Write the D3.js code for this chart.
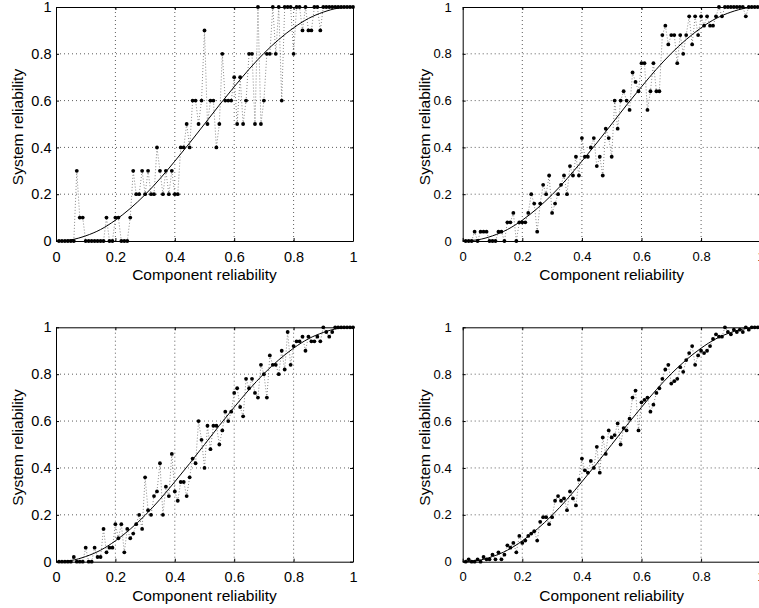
<!DOCTYPE html>
<html>
<head>
<meta charset="utf-8">
<script src="https://cdn.jsdelivr.net/npm/d3@7"></script>
<style>
body { margin: 0; background: #fff; }
text { font-family: "Liberation Sans", Arial, Helvetica, sans-serif; fill: #000; }
</style>
</head>
<body>
<div id="chart"></div>
<script>
// component reliability values where the system was simulated
const componentReliability = [
  0.01,0.02,0.03,0.04,0.05,0.06,0.07,0.08,0.09,0.10,
  0.11,0.12,0.13,0.14,0.15,0.16,0.17,0.18,0.19,0.20,
  0.21,0.22,0.23,0.24,0.25,0.26,0.27,0.28,0.29,0.30,
  0.31,0.32,0.33,0.34,0.35,0.36,0.37,0.38,0.39,0.40,
  0.41,0.42,0.43,0.44,0.45,0.46,0.47,0.48,0.49,0.50,
  0.51,0.52,0.53,0.54,0.55,0.56,0.57,0.58,0.59,0.60,
  0.61,0.62,0.63,0.64,0.65,0.66,0.67,0.68,0.69,0.70,
  0.71,0.72,0.73,0.74,0.75,0.76,0.77,0.78,0.79,0.80,
  0.81,0.82,0.83,0.84,0.85,0.86,0.87,0.88,0.89,0.90,
  0.91,0.92,0.93,0.94,0.95,0.96,0.97,0.98,0.99,1.00
];

// estimated system reliability, one list per panel
const sysTop1 = [
  0,0,0,0,0,0,0.3,0.1,0.1,0,
  0,0,0,0,0,0,0.1,0,0,0.1,
  0.1,0,0,0,0.1,0.3,0.2,0.2,0.3,0.2,
  0.3,0.2,0.2,0.4,0.3,0.2,0.3,0.2,0.3,0.2,
  0.2,0.4,0.4,0.5,0.4,0.6,0.6,0.5,0.6,0.9,
  0.5,0.6,0.6,0.4,0.5,0.8,0.6,0.6,0.6,0.7,
  0.5,0.7,0.5,0.6,0.8,0.8,0.5,1,0.5,0.6,
  0.8,0.8,1,0.8,1,0.6,1,1,1,0.8,
  1,1,0.9,1,0.9,0.9,1,1,0.9,1,
  1,1,1,1,1,1,1,1,1,1
];
const sysTop2 = [
  0,0,0,0.04,0,0.04,0.04,0.04,0,0,
  0,0.04,0.04,0,0.08,0.08,0.12,0,0.08,0.08,
  0.08,0.12,0.2,0.16,0.04,0.16,0.24,0.2,0.28,0.12,
  0.16,0.2,0.24,0.28,0.2,0.32,0.28,0.36,0.28,0.44,
  0.36,0.36,0.4,0.44,0.32,0.36,0.28,0.48,0.44,0.36,
  0.6,0.48,0.6,0.64,0.6,0.56,0.72,0.68,0.64,0.76,
  0.76,0.56,0.64,0.76,0.64,0.64,0.88,0.92,0.84,0.88,
  0.88,0.76,0.88,0.8,0.88,0.96,0.84,0.96,0.88,0.96,
  0.92,0.96,0.92,0.92,0.96,1,0.96,1,1,1,
  1,1,1,1,0.96,1,1,1,1,1
];
const sysBottom1 = [
  0,0,0,0,0,0.02,0,0,0,0.06,
  0,0,0.06,0.02,0.02,0.14,0.04,0.06,0.06,0.16,
  0.1,0.16,0.04,0.14,0.1,0.12,0.16,0.2,0.14,0.36,
  0.22,0.2,0.28,0.3,0.42,0.2,0.32,0.28,0.46,0.3,
  0.26,0.34,0.34,0.28,0.36,0.44,0.42,0.6,0.52,0.4,
  0.58,0.48,0.58,0.58,0.5,0.56,0.64,0.6,0.64,0.72,
  0.74,0.66,0.62,0.78,0.74,0.78,0.72,0.7,0.84,0.8,
  0.7,0.88,0.84,0.84,0.8,0.9,0.82,0.98,0.84,0.92,
  0.94,0.94,0.96,0.9,0.96,0.94,0.94,0.96,0.94,1,
  0.98,0.96,0.98,1,1,1,1,1,1,1
];
const sysBottom2 = [
  0,0.01,0,0,0.01,0,0.02,0.01,0.01,0.03,
  0.01,0.04,0.01,0.03,0.07,0.06,0.08,0.04,0.11,0.08,
  0.09,0.11,0.12,0.13,0.09,0.17,0.19,0.19,0.16,0.19,
  0.26,0.28,0.26,0.27,0.22,0.30,0.27,0.24,0.35,0.44,
  0.39,0.38,0.43,0.40,0.49,0.38,0.53,0.46,0.56,0.53,
  0.54,0.59,0.50,0.57,0.56,0.61,0.70,0.73,0.56,0.68,
  0.69,0.70,0.64,0.67,0.72,0.74,0.78,0.82,0.84,0.76,
  0.77,0.78,0.83,0.81,0.86,0.89,0.92,0.84,0.88,0.90,
  0.89,0.90,0.92,0.95,0.97,0.96,0.96,1.0,0.98,0.97,
  0.99,0.98,0.99,0.98,1,0.99,1,1,1,1
];

// exact system reliability curve
const curveX = [0,0.05,0.1,0.15,0.2,0.25,0.3,0.35,0.4,0.45,0.5,0.55,0.6,0.65,0.7,0.75,0.8,0.85,0.9,0.95,1];
const curveY = [0,0.005,0.022,0.049,0.089,0.139,0.198,0.266,0.341,0.419,0.5,0.581,0.659,0.734,0.802,0.861,0.911,0.951,0.978,0.995,1];

const tickValues = [0,0.2,0.4,0.6,0.8,1];
const tickLabels = ["0","0.2","0.4","0.6","0.8","1"];
const xTitle = "Component reliability";
const yTitle = "System reliability";

const W = 759, H = 608;

const panels = [
  {values: sysTop1,    left: 56,    right: 353,   top: 7,     bottom: 241,   pad: 4.5, fs: 14.5},
  {values: sysTop2,    left: 462.7, right: 760.7, top: 7,     bottom: 241,   pad: 11,  fs: 13},
  {values: sysBottom1, left: 56,    right: 353,   top: 327.3, bottom: 561.7, pad: 4.5, fs: 14.5},
  {values: sysBottom2, left: 462.7, right: 760.7, top: 327.3, bottom: 561.7, pad: 11,  fs: 13}
];

const svg = d3.select("#chart").append("svg")
  .attr("width", W).attr("height", H)
  .style("display", "block");

svg.append("rect").attr("width", W).attr("height", H).attr("fill", "#fff");

panels.forEach(drawPanel);

function drawPanel(p) {
  const x = d3.scaleLinear().domain([0, 1]).range([p.left, p.right]);
  const y = d3.scaleLinear().domain([0, 1]).range([p.bottom, p.top]);
  const g = svg.append("g");

  // dotted grid
  const grid = g.append("g").attr("class", "grid")
    .attr("stroke", "#333").attr("stroke-width", 0.8).attr("stroke-dasharray", "1,3");
  tickValues.slice(1, -1).forEach(t => {
    grid.append("line").attr("x1", x(t)).attr("x2", x(t)).attr("y1", p.bottom).attr("y2", p.top);
    grid.append("line").attr("y1", y(t)).attr("y2", y(t)).attr("x1", p.left).attr("x2", p.right);
  });

  // axes with inward ticks
  const fmt = (d, i) => tickLabels[i];
  const xa = g.append("g").attr("transform", "translate(0," + p.bottom + ")")
    .call(d3.axisBottom(x).tickValues(tickValues).tickFormat(fmt).tickSize(-3).tickSizeOuter(0).tickPadding(10.5));
  const ya = g.append("g").attr("transform", "translate(" + p.left + ",0)")
    .call(d3.axisLeft(y).tickValues(tickValues).tickFormat(fmt).tickSize(-3).tickSizeOuter(0).tickPadding(p.pad));
  g.append("g").attr("transform", "translate(0," + p.top + ")")
    .call(d3.axisTop(x).tickValues(tickValues).tickFormat("").tickSize(-3).tickSizeOuter(0));
  g.append("g").attr("transform", "translate(" + p.right + ",0)")
    .call(d3.axisRight(y).tickValues(tickValues).tickFormat("").tickSize(-3).tickSizeOuter(0));
  g.selectAll(".tick text").style("font-size", p.fs + "px").attr("fill", "#000");
  g.selectAll(".domain, .tick line").attr("stroke", "#000");

  // simulated estimates: dotted connection + dots
  const pts = componentReliability.map((c, i) => [c, p.values[i]]);
  g.append("path")
    .attr("fill", "none")
    .attr("stroke", "#555")
    .attr("stroke-width", 0.7)
    .attr("stroke-dasharray", "1,2")
    .attr("d", d3.line().x(d => x(d[0])).y(d => y(d[1]))(pts));
  g.append("g").selectAll("circle").data(pts).join("circle")
    .attr("cx", d => x(d[0])).attr("cy", d => y(d[1])).attr("r", 1.9).attr("fill", "#000");

  // exact curve
  g.append("path")
    .attr("fill", "none")
    .attr("stroke", "#000")
    .attr("stroke-width", 1)
    .attr("d", d3.line().curve(d3.curveMonotoneX).x((d, i) => x(d)).y((d, i) => y(curveY[i]))(curveX));

  // axis titles
  g.append("text")
    .attr("x", (p.left + p.right) / 2).attr("y", p.bottom + 39)
    .attr("text-anchor", "middle").style("font-size", "15.5px")
    .text(xTitle);
  g.append("text")
    .attr("transform", "translate(" + (p.left - 33) + "," + ((p.top + p.bottom) / 2 + 3) + ") rotate(-90)")
    .attr("text-anchor", "middle").style("font-size", "15.5px")
    .text(yTitle);
}
</script>
</body>
</html>
